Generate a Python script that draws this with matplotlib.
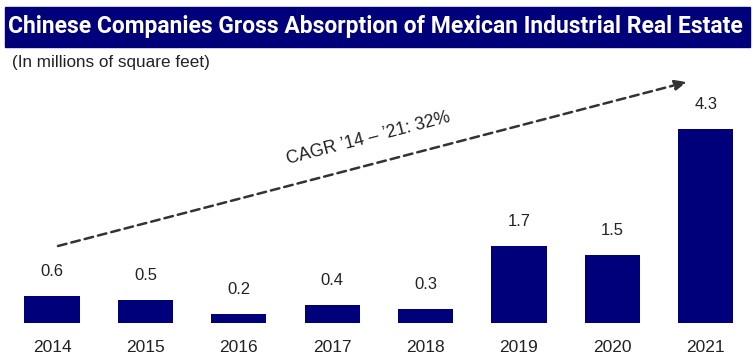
import matplotlib
matplotlib.use("Agg")
import matplotlib.pyplot as plt
from matplotlib.patches import Rectangle
from matplotlib import font_manager

years = ["2014", "2015", "2016", "2017", "2018", "2019", "2020", "2021"]
absorption = [0.6, 0.5, 0.2, 0.4, 0.3, 1.7, 1.5, 4.3]
value_labels = ["0.6", "0.5", "0.2", "0.4", "0.3", "1.7", "1.5", "4.3"]

title = "Chinese Companies Gross Absorption of Mexican Industrial Real Estate"
subtitle = "(In millions of square feet)"
cagr_text = "CAGR \u201914 \u2013 \u201921: 32%"

NAVY = "#00007a"
installed = {f.name for f in font_manager.fontManager.ttflist}
narrow = "Liberation Sans Narrow" if "Liberation Sans Narrow" in installed else "Roboto"
plt.rcParams["font.family"] = ["Liberation Sans", "DejaVu Sans"]

W, H = 753, 355
fig = plt.figure(figsize=(W / 100, H / 100), dpi=100)

# title banner
fig.patches.append(Rectangle((5 / W, 1 - 47 / H), 745 / W, 40 / H,
                             transform=fig.transFigure, color=NAVY, zorder=0))
fig.text(8 / W, 1 - 27 / H, title, color="white", fontsize=16.5,
         fontweight="bold", family=[narrow, "DejaVu Sans"],
         ha="left", va="center")
fig.text(12 / W, 1 - 62 / H, subtitle, color="#222222", fontsize=12.3,
         ha="left", va="center")

# plotting area: baseline 32 px above bottom edge
ax = fig.add_axes([0, 32 / H, 1, (H - 32 - 50) / H])
step = 93.4
x0 = 52
ax.set_xlim(-x0 / step, (W - x0) / step)
ax.set_ylim(0, (H - 32 - 50) / 45.1)

xs = list(range(len(years)))
ax.bar(xs, absorption, width=0.59, color=NAVY, zorder=2)
for x, v, lab in zip(xs, absorption, value_labels):
    ax.annotate(lab, (x, v), xytext=(0, 12.5), textcoords="offset points",
                ha="center", va="bottom", fontsize=12, color="#222222")

ax.set_xticks(xs)
ax.set_xticklabels(years, fontsize=12.5, color="#222222")
ax.tick_params(axis="x", length=0, pad=12.5)
ax.set_yticks([])
for s in ax.spines.values():
    s.set_visible(False)

# trend arrow
sx, sy = (58 - x0) / step, (323 - 246) / 45.1
ex, ey = (687 - x0) / step, (323 - 82) / 45.1
ax.annotate("", xy=(ex, ey), xytext=(sx, sy),
            arrowprops=dict(arrowstyle="-|>,head_length=0.7,head_width=0.3",
                            color="#333333", lw=1.8, linestyle=(0, (3.5, 2)),
                            shrinkA=0, shrinkB=0))
ax.text((368 - x0) / step, (323 - 138) / 45.1, cagr_text, rotation=14.6,
        rotation_mode="anchor", ha="center", va="center", fontsize=12.8,
        color="#222222")

fig.savefig("out.png", dpi=100)
